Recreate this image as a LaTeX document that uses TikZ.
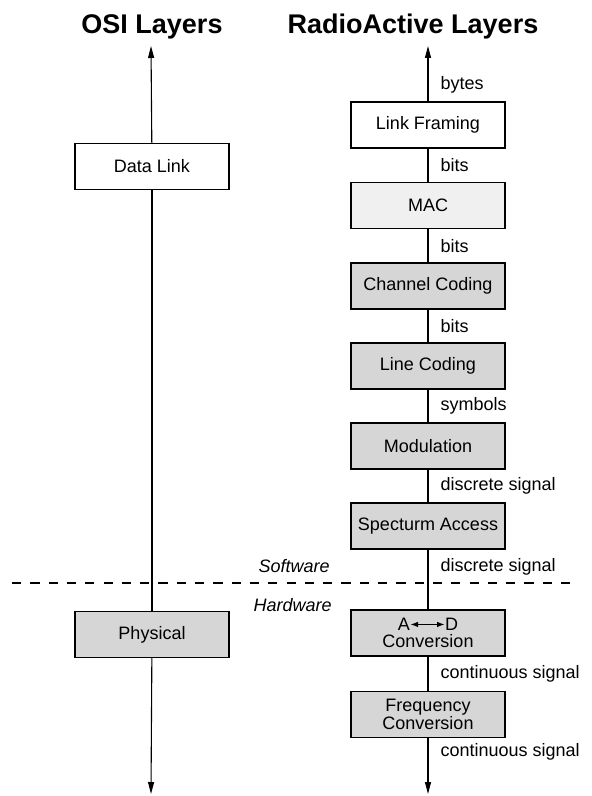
\documentclass[tikz,border=0pt]{standalone}
\usepackage{fontspec}
\setmainfont{Liberation Sans}
\usetikzlibrary{arrows.meta}

\definecolor{laygray}{gray}{0.84}
\definecolor{macgray}{gray}{0.94}

\newcommand{\lblfont}{\fontsize{9}{10.2}\selectfont}
\newcommand{\ttlfont}{\bfseries\fontsize{13.5}{16}\selectfont}

\tikzset{
	layer/.style={draw, fill=laygray, line width=0.6pt, minimum width=77pt,
		minimum height=23pt, inner sep=0pt, align=center, font=\lblfont},
	flow/.style={line width=0.55pt},
	tip/.style={-{Triangle[length=6pt,width=3pt]}},
	lbl/.style={anchor=west, inner sep=0pt, xshift=6pt, font=\lblfont},
	side/.style={anchor=east, inner sep=0pt, font=\lblfont\itshape},
}

\begin{document}
\begin{tikzpicture}[x=0.5pt,y=-0.5pt]
	\useasboundingbox (0,0) rectangle (592,796);
	
	% headings
	\node[anchor=base,font=\ttlfont] (osihead) at (152,34) {OSI Layers};
	\node[anchor=base,font=\ttlfont] (rahead) at (413,34) {RadioActive Layers};
	
	% software / hardware split
	\draw[line width=0.6pt,dash pattern=on 4.6pt off 4.55pt] (12,583) -- (574,583);
	\node[side] (sw) at (330,566) {Software};
	\node[side] (hw) at (332,605) {Hardware};
	
	% OSI column
	\coordinate (ltop) at (151,46);
	\coordinate (lbot) at (151,794);
	\node[layer,fill=white] (datalink) at (152,166.5) {Data Link};
	\node[layer] (phys) at (152,634.5) {Physical};
	
	\draw[flow,tip] (datalink) -- (ltop);
	\draw[flow] (datalink) -- (phys);
	\draw[flow,tip] (phys) -- (lbot);
	
	% RadioActive column
	\coordinate (rtop) at (428,46);
	\coordinate (rbot) at (428,794);
	\node[layer,fill=white] (framing) at (428,125) {Link Framing};
	\node[layer,fill=macgray] (mac) at (428,205.5) {MAC};
	\node[layer] (chcode) at (428,286) {Channel Coding};
	\node[layer] (lncode) at (428,366) {Line Coding};
	\node[layer] (modul) at (428,446) {Modulation};
	\node[layer] (spec) at (428,526) {Specturm Access};
	\node[layer] (adconv) at (428,633) {A\tikz[baseline]\draw[line width=0.6pt,
		{Latex[length=3.8pt,width=2.8pt]}-{Latex[length=3.8pt,width=2.8pt]}]
		(0,0.33em) -- (1.9em,0.33em);D\\[-1.5pt]Conversion};
	\node[layer] (freq) at (428,714.5) {Frequency\\[-1.5pt]Conversion};
	
	\draw[flow,tip] (framing) -- node[lbl,pos=0.3] (l1) {bytes} (rtop);
	\draw[flow] (framing) -- node[lbl] (l2) {bits} (mac);
	\draw[flow] (mac) -- node[lbl] (l3) {bits} (chcode);
	\draw[flow] (chcode) -- node[lbl] (l4) {bits} (lncode);
	\draw[flow] (lncode) -- node[lbl] (l5) {symbols} (modul);
	\draw[flow] (modul) -- node[lbl] (l6) {discrete signal} (spec);
	\draw[flow] (spec) -- node[lbl,pos=0.28] (l7) {discrete signal} (adconv);
	\draw[flow] (adconv) -- node[lbl] (l8) {continuous signal} (freq);
	\draw[flow,tip] (freq) -- node[lbl,pos=0.24] (l9) {continuous signal} (rbot);
	
\end{tikzpicture}
\end{document}
